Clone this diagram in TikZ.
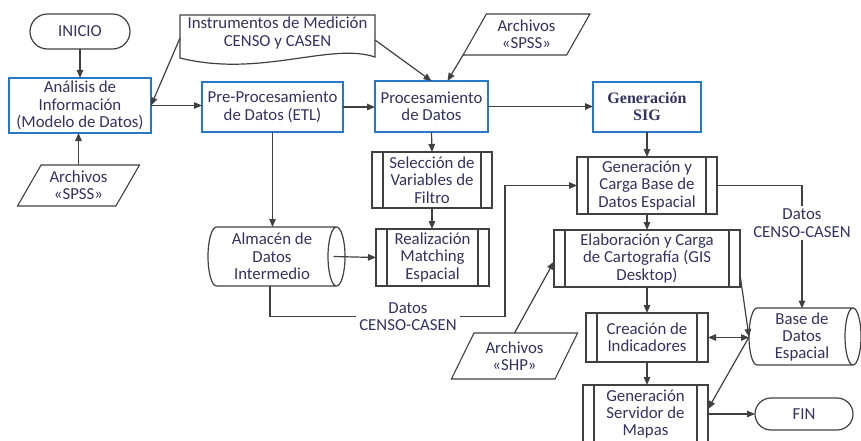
\documentclass[tikz,border=0pt]{standalone}
\usepackage{fontspec}
\setmainfont{Carlito}
\newfontfamily\sigfont{Liberation Serif}
\usetikzlibrary{arrows.meta,shapes.geometric,shapes.misc,calc}
\definecolor{txt}{RGB}{50,50,95}
\definecolor{blu}{RGB}{40,120,200}
\definecolor{lin}{RGB}{64,64,64}
\tikzset{
  every node/.style={inner sep=0pt, outer sep=0pt, align=center, text=txt},
  bluebox/.style={draw=blu, line width=1.5pt, rectangle},
  predef/.style={draw=lin, line width=1.2pt, rectangle,
    path picture={\draw[lin, line width=1.2pt]
      ([xshift=11pt]path picture bounding box.north west) -- ([xshift=11pt]path picture bounding box.south west)
      ([xshift=-11pt]path picture bounding box.north east) -- ([xshift=-11pt]path picture bounding box.south east);}},
  term/.style={draw=lin, line width=1.2pt, rounded rectangle},
  iobox/.style 2 args={draw=lin, line width=1.1pt, trapezium, trapezium left angle=#1, trapezium right angle=#2, trapezium stretches=true},
  conn/.style={draw=lin, line width=1.2pt, -{Triangle[length=8pt,width=6.5pt]}},
  plainline/.style={draw=lin, line width=1.2pt},
  shapeline/.style={draw=lin, line width=1.2pt},
  lbl/.style={inner sep=3pt, fill=white}
}
\begin{document}
\begin{tikzpicture}[x=1pt, y=-1pt, font=\fontsize{16.8}{17.4}\selectfont]
\useasboundingbox (0,0) rectangle (861,441);

% nodes
\node[term, minimum width=100pt, minimum height=35pt] (inicio) at (80,31.5) {INICIO};
\node[bluebox, minimum width=142pt, minimum height=55pt] (analisis) at (80,105.5) {Análisis de\\Información\\(Modelo de Datos)};
\node[iobox={58}{122}, minimum width=123pt, minimum height=41pt] (spss1) at (78.5,185.5) {Archivos\\«SPSS»};
\node[minimum width=195pt, minimum height=36pt] (instr) at (277.5,33) {Instrumentos de Medición\\CENSO y CASEN};
\draw[shapeline] (180,15) -- (375,15) -- (375,57) .. controls (330,42) and (260,78) .. (180,58) -- cycle;
\node[bluebox, minimum width=141pt, minimum height=50pt] (preproc) at (272.5,107) {Pre-Procesamiento\\de Datos (ETL)};
\node[bluebox, minimum width=113pt, minimum height=51pt] (proc) at (431.5,106.5) {Procesamiento\\de Datos};
\node[iobox={60}{120}, minimum width=127pt, minimum height=41pt] (spss2) at (526.5,34.5) {Archivos\\«SPSS»};
\node[bluebox, minimum width=108pt, minimum height=50pt, font={\sigfont\bfseries\fontsize{16}{17}\selectfont}] (sig) at (647,107) {Generación\\SIG};
\node[predef, minimum width=140pt, minimum height=57pt] (gcarga) at (647,185.5) {Generación y\\Carga Base de\\Datos Espacial};
\node[predef, minimum width=120pt, minimum height=56pt] (selec) at (432,180) {Selección de\\Variables de\\Filtro};
\node[minimum width=137pt, minimum height=59pt] (almacen) at (272,256.5) {Almacén de\\Datos\\Intermedio};
\draw[shapeline] (216.5,227) -- (336.5,227) (336.5,256.5) ellipse [x radius=8.5pt, y radius=29.5pt]
  (336.5,286) -- (216.5,286) arc[start angle=270, end angle=90, x radius=8.5pt, y radius=29.5pt];
\node[predef, minimum width=113pt, minimum height=57pt] (realiz) at (432.5,257.5) {Realización\\Matching\\Espacial};
\node[predef, minimum width=186pt, minimum height=57pt] (elab) at (647,258.5) {Elaboración y Carga\\de Cartografía (GIS\\Desktop)};
\node[lbl] (datos2) at (802,223) {Datos\\CENSO-CASEN};
\node[minimum width=106pt, minimum height=57pt] (base) at (802,337) {Base de\\Datos\\Espacial};
\draw[shapeline] (757,308) -- (853,308) (853,336.5) ellipse [x radius=8pt, y radius=28.5pt]
  (853,365) -- (757,365) arc[start angle=270, end angle=90, x radius=8pt, y radius=28.5pt];
\node[iobox={61}{119}, minimum width=127pt, minimum height=46pt] (shp) at (514.5,356) {Archivos\\«SHP»};
\node[lbl] (datos1) at (408,316.5) {Datos\\CENSO-CASEN};
\node[predef, minimum width=122pt, minimum height=49pt] (crea) at (647,337.5) {Creación de\\Indicadores};
\node[predef, minimum width=125pt, minimum height=58pt] (gserv) at (645.5,414) {Generación\\Servidor de\\Mapas};
\node[term, minimum width=98pt, minimum height=32pt] (fin) at (804,414) {FIN};
\coordinate (bend1) at (505,0);

% connectors
\draw[conn] (inicio.south) -- (analisis.north);
\draw[conn] (spss1.north) -- (spss1.north |- analisis.south);
\draw[conn] ([yshift=-5pt]instr.west) -- (analisis.east);
\draw[conn] (analisis.east) -- (analisis.east -| preproc.west);
\draw[conn] (preproc.east) -- (preproc.east -| proc.west);
\draw[conn] (proc.east) -- (proc.east -| sig.west);
\draw[conn] ([yshift=-7pt]instr.east) -- (proc.north);
\draw[conn] (spss2.bottom left corner) -- ([xshift=16pt]proc.north);
\draw[conn] (sig.south) -- (gcarga.north);
\draw[conn] (proc.south) -- (selec.north);
\draw[conn] (selec.south) -- (selec.south |- realiz.north);
\draw[conn] (preproc.south) -- (preproc.south |- almacen.north);
\draw[conn] ([xshift=-7pt]almacen.east) -- (realiz.west);
\draw[plainline] ([xshift=-2pt]almacen.south) |- (datos1.west);
\draw[conn] (datos1.east) -- (datos1.east -| bend1) |- (gcarga.west);
\draw[plainline] (gcarga.east) -| (datos2.north);
\draw[conn] (datos2.south) -- (datos2.south |- base.north);
\draw[conn] (gcarga.south) -- (elab.north);
\draw[conn] (elab.south) -- (crea.north);
\draw[conn] (crea.south) -- (crea.south |- gserv.north);
\draw[conn] (shp.north) -- ([yshift=-3pt]elab.west);
\draw[conn] ([yshift=-16pt]elab.east) -- (base.west);
\draw[conn, {Triangle[length=8pt,width=6.5pt]}-{Triangle[length=8pt,width=6.5pt]}] (crea.east) -- (crea.east -| base.west);
\draw[conn] (base.west) -- ([yshift=5pt]gserv.east);
\draw[conn] (gserv.east) -- (fin.west);
\end{tikzpicture}
\end{document}
